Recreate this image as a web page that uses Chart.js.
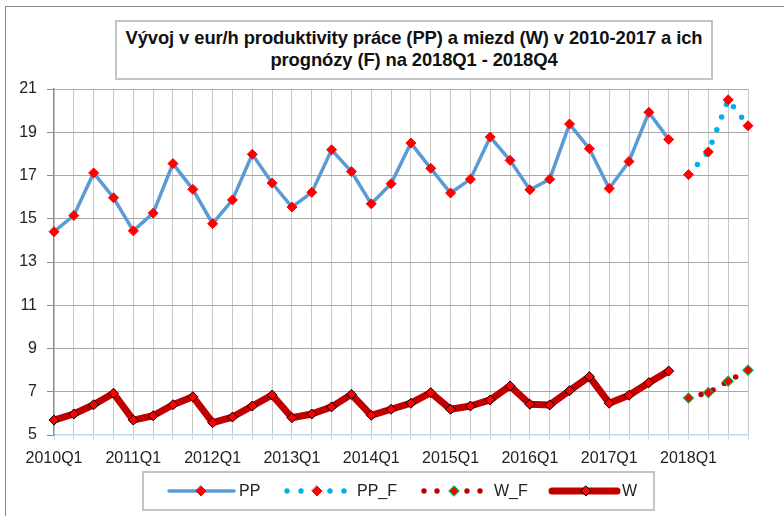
<!DOCTYPE html>
<html>
<head>
<meta charset="utf-8">
<script src="https://cdn.jsdelivr.net/npm/chart.js@4.4.1/dist/chart.umd.min.js"></script>
<style>
  html, body { margin: 0; padding: 0; background: #ffffff; }
  #wrap { position: relative; width: 784px; height: 516px; overflow: hidden; background: #ffffff; }
  #frame { position: absolute; left: 5px; top: 6px; width: 900px; height: 700px;
           border-left: 1px solid #8a8a8a; border-top: 1px solid #8a8a8a; }
  #chart { position: absolute; left: 0; top: 0; }
  #title { position: absolute; left: 115px; top: 20px; width: 598px; height: 60px; box-sizing: border-box;
           border: 2px solid #c4c4c4; background: #fff; text-align: center;
           font-family: "Liberation Sans", Arial, sans-serif; font-weight: bold; font-size: 18.4px;
           line-height: 22px; padding-top: 5px; color: #111; letter-spacing: -0.1px; }
</style>
</head>
<body>
<div id="wrap">
  <div id="frame"></div>
  <canvas id="chart" width="784" height="516"></canvas>
  <div id="title">Vývoj v eur/h produktivity práce (PP) a miezd (W) v 2010-2017 a ich<br>prognózy (F) na 2018Q1 - 2018Q4</div>
</div>
<script>
// ---- data ----
const quarters = [
  "2010Q1","2010Q2","2010Q3","2010Q4",
  "2011Q1","2011Q2","2011Q3","2011Q4",
  "2012Q1","2012Q2","2012Q3","2012Q4",
  "2013Q1","2013Q2","2013Q3","2013Q4",
  "2014Q1","2014Q2","2014Q3","2014Q4",
  "2015Q1","2015Q2","2015Q3","2015Q4",
  "2016Q1","2016Q2","2016Q3","2016Q4",
  "2017Q1","2017Q2","2017Q3","2017Q4",
  "2018Q1","2018Q2","2018Q3","2018Q4"
];
const ppValues = [
  14.40, 15.15, 17.12, 15.97,
  14.44, 15.26, 17.55, 16.36,
  14.77, 15.87, 17.98, 16.65,
  15.54, 16.22, 18.19, 17.18,
  15.69, 16.62, 18.50, 17.33,
  16.19, 16.83, 18.78, 17.70,
  16.34, 16.83, 19.38, 18.24,
  16.40, 17.65, 19.92, 18.67
];
const ppForecast = [17.04, 18.09, 20.50, 19.30];
const wValues = [
  5.69, 5.97, 6.40, 6.93,
  5.69, 5.89, 6.40, 6.77,
  5.57, 5.83, 6.34, 6.85,
  5.80, 5.97, 6.30, 6.88,
  5.91, 6.19, 6.47, 6.96,
  6.19, 6.34, 6.62, 7.27,
  6.42, 6.39, 7.05, 7.70,
  6.47, 6.84, 7.42, 7.96
];
const wForecast = [6.71, 6.96, 7.49, 8.00];
const yTickValues = [5, 7, 9, 11, 13, 15, 17, 19, 21];
const xTickLabels = ["2010Q1","2011Q1","2012Q1","2013Q1","2014Q1","2015Q1","2016Q1","2017Q1","2018Q1"];
const seriesNames = ["PP", "PP_F", "W_F", "W"];

// ---- build full-length series ----
const histLen = ppValues.length;
const fcLen = ppForecast.length;
const pad = n => new Array(n).fill(null);
const ppData = ppValues.concat(pad(fcLen));
const ppFData = pad(histLen).concat(ppForecast);
const wData = wValues.concat(pad(fcLen));
const wFData = pad(histLen).concat(wForecast);

function diamond(ctx, x, y, r, fill, stroke, lw) {
  ctx.save();
  ctx.beginPath();
  ctx.moveTo(x, y - r); ctx.lineTo(x + r, y); ctx.lineTo(x, y + r); ctx.lineTo(x - r, y); ctx.closePath();
  ctx.fillStyle = fill; ctx.fill();
  if (lw > 0) { ctx.lineWidth = lw; ctx.strokeStyle = stroke; ctx.stroke(); }
  ctx.restore();
}
function dot(ctx, x, y, r, color) {
  ctx.save(); ctx.beginPath(); ctx.arc(x, y, r, 0, Math.PI * 2); ctx.fillStyle = color; ctx.fill(); ctx.restore();
}

const legendPlugin = {
  id: 'customLegend',
  afterDraw(chart) {
    const ctx = chart.ctx;
    ctx.save();
    ctx.strokeStyle = '#c4c4c4';
    ctx.lineWidth = 2;
    ctx.strokeRect(143, 472, 511, 38);
    const cy = 491;
    ctx.font = '16px "Liberation Sans", Arial, sans-serif';
    ctx.fillStyle = '#222';
    ctx.textBaseline = 'middle';
    ctx.textAlign = 'left';
    // PP
    ctx.beginPath(); ctx.moveTo(169, cy); ctx.lineTo(234, cy);
    ctx.strokeStyle = '#5B9BD5'; ctx.lineWidth = 3.5; ctx.lineCap = 'round'; ctx.stroke();
    diamond(ctx, 201, cy, 5, '#FF0000', '#FF0000', 1);
    ctx.fillStyle = '#222'; ctx.fillText(seriesNames[0], 239, cy + 1);
    // PP_F
    [287, 301, 330, 344].forEach(x => dot(ctx, x, cy, 2.7, '#00B0F0'));
    diamond(ctx, 317, cy, 5, '#FF0000', '#FF0000', 1);
    ctx.fillStyle = '#222'; ctx.fillText(seriesNames[1], 357, cy + 1);
    // W_F
    [424, 437, 467, 480].forEach(x => dot(ctx, x, cy, 2.7, '#C00000'));
    diamond(ctx, 454, cy, 5, '#FF0000', '#00B050', 1.2);
    ctx.fillStyle = '#222'; ctx.fillText(seriesNames[2], 494, cy + 1);
    // W
    ctx.beginPath(); ctx.moveTo(552, cy); ctx.lineTo(617, cy);
    ctx.strokeStyle = '#C00000'; ctx.lineWidth = 7; ctx.lineCap = 'round'; ctx.stroke();
    diamond(ctx, 586, cy, 5, '#FF0000', '#000000', 1);
    ctx.fillStyle = '#222'; ctx.fillText(seriesNames[3], 622, cy + 1);
    ctx.restore();
  }
};

const tickFont = { family: '"Liberation Sans", Arial, sans-serif', size: 16 };

new Chart(document.getElementById('chart'), {
  type: 'line',
  data: {
    labels: quarters,
    datasets: [
      { label: seriesNames[0], data: ppData, borderColor: '#5B9BD5', borderWidth: 3.5, tension: 0,
        pointStyle: 'rectRot', pointRadius: 5, pointBackgroundColor: '#FF0000', pointBorderColor: '#FF0000',
        pointBorderWidth: 1, clip: false },
      { label: seriesNames[1], data: ppFData, borderColor: '#00B0F0', borderWidth: 5.5, borderDash: [0, 13.5],
        borderCapStyle: 'round', tension: 0,
        pointStyle: 'rectRot', pointRadius: 5, pointBackgroundColor: '#FF0000', pointBorderColor: '#FF0000',
        pointBorderWidth: 1, clip: false },
      { label: seriesNames[2], data: wFData, borderColor: '#C00000', borderWidth: 5.5, borderDash: [0, 13],
        borderCapStyle: 'round', tension: 0,
        pointStyle: 'rectRot', pointRadius: 5, pointBackgroundColor: '#FF0000', pointBorderColor: '#00B050',
        pointBorderWidth: 1.2, clip: false },
      { label: seriesNames[3], data: wData, borderColor: '#C00000', borderWidth: 7, tension: 0,
        borderJoinStyle: 'round',
        pointStyle: 'rectRot', pointRadius: 5, pointBackgroundColor: '#FF0000', pointBorderColor: '#000000',
        pointBorderWidth: 1, clip: false }
    ]
  },
  options: {
    responsive: false,
    animation: false,
    devicePixelRatio: 1,
    layout: { padding: { left: 0, right: 36, top: 89, bottom: 0 } },
    plugins: { legend: { display: false }, title: { display: false }, tooltip: { enabled: false } },
    scales: {
      x: {
        type: 'category',
        offset: false,
        grid: {
          offset: false,
          color: c => (c.index === 0 ? 'rgba(0,0,0,0)' : '#C8C8C8'),
          lineWidth: 1,
          drawTicks: true,
          tickLength: 5,
          tickColor: '#BDD7EE'
        },
        border: { color: '#BDD7EE', width: 1.5 },
        ticks: {
          autoSkip: false, maxRotation: 0, minRotation: 0,
          font: tickFont, color: '#222', padding: 9,
          callback: function (v, i) {
            const lab = quarters[i];
            return xTickLabels.includes(lab) ? lab : '';
          }
        },
        afterFit: s => { s.height = 81; }
      },
      y: {
        min: 5, max: 21,
        afterBuildTicks: s => { s.ticks = yTickValues.map(v => ({ value: v })); },
        grid: {
          color: c => (c.tick && c.tick.value === 5 ? 'rgba(0,0,0,0)' : '#A8A8A8'),
          lineWidth: 1,
          tickLength: 7,
          tickColor: '#8a8a8a'
        },
        border: { color: '#8a8a8a', width: 1.5 },
        ticks: { font: tickFont, color: '#222', padding: 10 },
        afterFit: s => { s.width = 54; }
      }
    }
  },
  plugins: [legendPlugin]
});
</script>
</body>
</html>
